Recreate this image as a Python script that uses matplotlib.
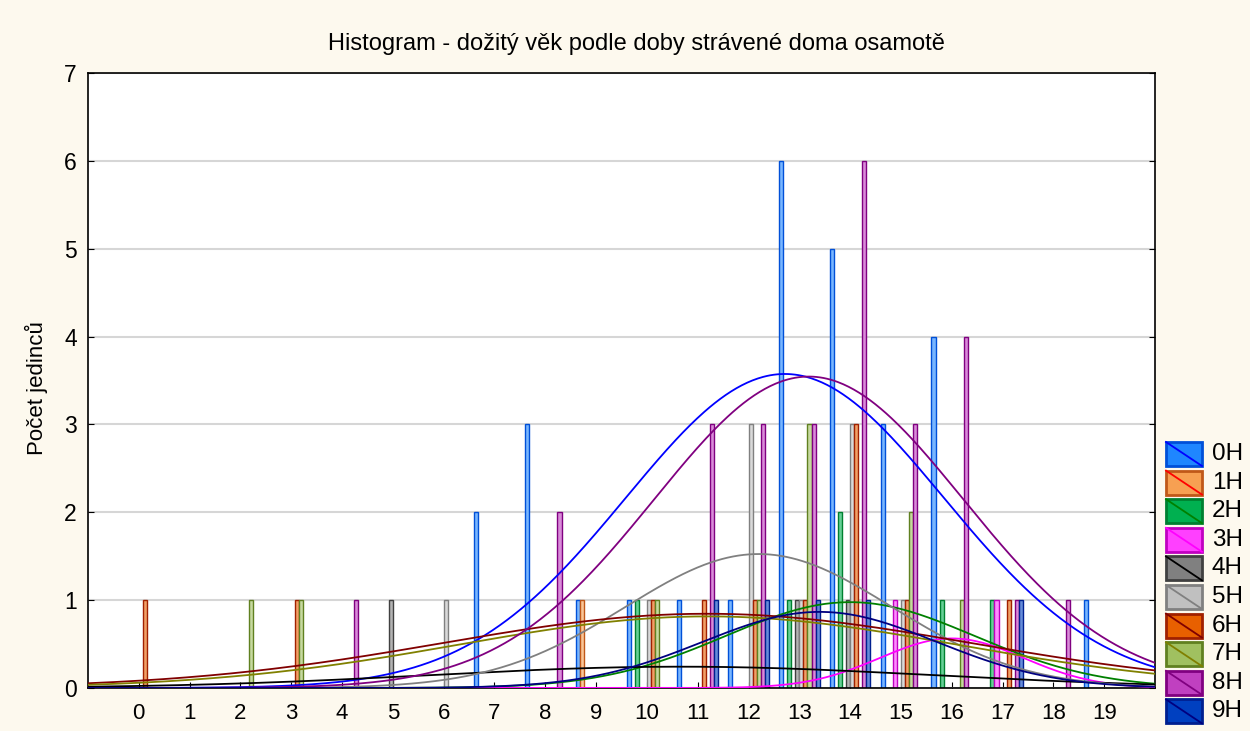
import numpy as np
import matplotlib
matplotlib.use('Agg')
import matplotlib.pyplot as plt
from matplotlib.patches import Rectangle
from matplotlib.lines import Line2D

plt.rcParams['font.family'] = ['Liberation Sans', 'DejaVu Sans']

# %% data: counts per bin (age classes 0..19) for each group
bins = np.arange(20)
groups = ['0H', '1H', '2H', '3H', '4H', '5H', '6H', '7H', '8H', '9H']
#                 0  1  2  3  4  5  6  7  8  9 10 11 12 13 14 15 16 17 18 19
counts_0H = [0, 0, 0, 0, 0, 0, 0, 2, 3, 1, 1, 1, 1, 6, 5, 3, 4, 0, 0, 1]
counts_1H = [0, 0, 0, 0, 0, 0, 0, 0, 0, 1, 0, 0, 0, 0, 0, 0, 0, 0, 0, 0]
counts_2H = [0, 0, 0, 0, 0, 0, 0, 0, 0, 0, 1, 0, 0, 1, 2, 0, 1, 1, 0, 0]
counts_3H = [0, 0, 0, 0, 0, 0, 0, 0, 0, 0, 0, 0, 0, 0, 0, 1, 0, 1, 0, 0]
counts_4H = [0, 0, 0, 0, 0, 1, 0, 0, 0, 0, 0, 0, 0, 1, 1, 0, 0, 0, 0, 0]
counts_5H = [0, 0, 0, 0, 0, 0, 1, 0, 0, 0, 1, 0, 3, 1, 3, 1, 0, 0, 0, 0]
counts_6H = [1, 0, 0, 1, 0, 0, 0, 0, 0, 0, 1, 1, 1, 1, 3, 1, 0, 1, 0, 0]
counts_7H = [0, 0, 1, 1, 0, 0, 0, 0, 0, 0, 1, 0, 1, 3, 0, 2, 1, 0, 0, 0]
counts_8H = [0, 0, 0, 0, 1, 0, 0, 0, 2, 0, 0, 3, 3, 3, 6, 3, 4, 1, 1, 0]
counts_9H = [0, 0, 0, 0, 0, 0, 0, 0, 0, 0, 0, 1, 1, 1, 1, 0, 0, 1, 0, 0]
counts = [counts_0H, counts_1H, counts_2H, counts_3H, counts_4H,
          counts_5H, counts_6H, counts_7H, counts_8H, counts_9H]

# styles
fill_colors = ['#1f86ff', '#f7a052', '#00b050', '#ff40ff', '#808080',
               '#c0c0c0', '#e86000', '#a0c060', '#c040c0', '#0040c0']
edge_colors = ['#0050d8', '#c05818', '#008030', '#c000c0', '#404040',
               '#808080', '#a02000', '#608020', '#800080', '#002090']
line_colors = ['#0000ff', '#ff0000', '#008000', '#ff00ff', '#000000',
               '#808080', '#800000', '#808000', '#800080', '#000080']


def lighten(c, f):
    c = np.array(matplotlib.colors.to_rgb(c))
    return tuple(c + (1 - c) * f)


# %% figure
W, H = 1250, 731
fig = plt.figure(figsize=(W / 100, H / 100), dpi=100, facecolor='#fdf9ee')
ax = fig.add_axes([88 / W, 1 - 688 / H, (1155 - 88) / W, (688 - 73) / H])
ax.set_facecolor('white')

bw = 0.08
for g, c in enumerate(counts):
    c = np.array(c)
    m = c > 0
    ax.bar(bins[m] + (g - 4.5) * bw, c[m], width=bw,
           color=lighten(fill_colors[g], 0.4), edgecolor=edge_colors[g],
           linewidth=1.0, zorder=2)

# fitted normal curves (n * binwidth * pdf)
xs = np.linspace(-1, 20, 600)
for g, c in enumerate(counts):
    vals = np.repeat(bins, c)
    if len(vals) < 2:
        continue
    mu = vals.mean()
    sd = vals.std(ddof=1)
    y = len(vals) / (sd * np.sqrt(2 * np.pi)) * np.exp(-0.5 * ((xs - mu) / sd) ** 2)
    ax.plot(xs, y, color=line_colors[g], lw=1.3, zorder=3)

ax.set_xlim(-1, 20)
ax.set_ylim(0, 7)
ax.set_xticks(bins)
ax.set_yticks(range(8))
ax.tick_params(axis='x', direction='in', length=4, labelsize=16, pad=11)
ax.tick_params(axis='y', direction='in', length=4, labelsize=16.5, pad=8,
               right=True)
ax.grid(axis='y', color='#d6d6d6', lw=1.5, zorder=0)
ax.set_axisbelow(True)
for s in ax.spines.values():
    s.set_linewidth(1.2)

fig.text(636 / W, 1 - 44 / H,
         'Histogram - dožitý věk podle doby strávené doma osamotě',
         ha='center', va='center', fontsize=17)
fig.text(36 / W, 1 - 388 / H, 'Počet jedinců', rotation=90,
         ha='center', va='center', fontsize=16)

# legend on the right
for g, name in enumerate(groups):
    top = 442 + g * 28.6
    x0, x1 = 1166, 1202
    y0, y1 = 1 - (top + 24) / H, 1 - top / H
    fig.add_artist(Rectangle((x0 / W, y0), (x1 - x0) / W, y1 - y0,
                             transform=fig.transFigure,
                             facecolor=fill_colors[g], edgecolor=edge_colors[g],
                             linewidth=2))
    fig.add_artist(Line2D([x0 / W, x1 / W], [y1, y0], transform=fig.transFigure,
                          color=line_colors[g], lw=1.3))
    fig.text(1212 / W, (y0 + y1) / 2, name, ha='left', va='center',
             fontsize=17.5)

fig.savefig('out.png', dpi=100, facecolor=fig.get_facecolor())
